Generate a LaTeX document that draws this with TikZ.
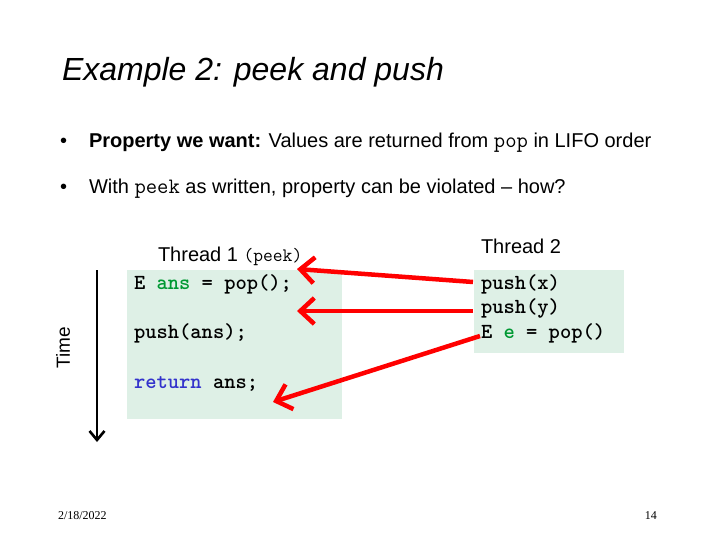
\documentclass[tikz,border=0pt]{standalone}
\usepackage{fontspec}
\setmainfont{Liberation Sans}
\newfontfamily\footfont{Liberation Serif}
\usetikzlibrary{arrows.meta}
\definecolor{boxfill}{RGB}{222,240,230}
\definecolor{kwgreen}{RGB}{0,153,51}
\definecolor{kwblue}{RGB}{51,51,204}
\tikzset{
  txt/.style={anchor=base west, inner sep=0pt, outer sep=0pt},
  code/.style={txt, font=\ttfamily\bfseries\fontsize{21.5}{21.5}\selectfont},
  codebox/.style={fill=boxfill, draw=none},
  redarrow/.style={draw=red, line width=4.5pt, -{Straight Barb[length=14pt,width=26pt,line width=4.5pt]}},
  timearrow/.style={draw=black, line width=2.6pt, -{Straight Barb[length=9pt,width=15pt,line width=2.6pt]}},
}
\newcommand{\mc}[1]{{\ttfamily\fontsize{22}{22}\selectfont #1}}
\begin{document}
\begin{tikzpicture}[x=1pt,y=-1pt]
\useasboundingbox[fill=white] (0,0) rectangle (720,540);
% title
\node[txt, font=\itshape\fontsize{32}{32}\selectfont] (title) at (62,81) {Example 2: peek and push};
% bullets
\node[txt, font=\fontsize{20}{20}\selectfont] (b1) at (60,148) {\textbullet};
\node[txt, font=\fontsize{20}{20}\selectfont] (l1) at (89,148) {\textbf{Property we want:} Values are returned from \mc{pop} in LIFO order};
\node[txt, font=\fontsize{20}{20}\selectfont] (b2) at (60,194) {\textbullet};
\node[txt, font=\fontsize{20}{20}\selectfont] (l2) at (89,194) {With \mc{peek} as written, property can be violated -- how?};
% boxes
\path[codebox] (127,270) rectangle (342,419);
\path[codebox] (474,270) rectangle (624,353);
\node[txt, font=\fontsize{20}{20}\selectfont] (th1) at (158,261) {Thread 1 {\ttfamily\fontsize{19}{19}\selectfont(peek)}};
\node[txt, font=\fontsize{20}{20}\selectfont] (th2) at (481,254) {Thread 2};
% thread 1 code
\node[code] (c1) at (134,289) {E \textcolor{kwgreen}{ans} = pop();};
\node[code] (c2) at (134,338) {push(ans);};
\node[code] (c3) at (134,388) {\textcolor{kwblue}{return} ans;};
% thread 2 code
\node[code] (d1) at (481,289) {push(x)};
\node[code] (d2) at (481,313) {push(y)};
\node[code] (d3) at (481,338) {E \textcolor{kwgreen}{e} = pop()};
% time
\coordinate (t0) at (97,270);
\coordinate (t1) at (97,442);
\draw[timearrow] (t0) -- (t1);
\node[rotate=90, font=\fontsize{19}{19}\selectfont, inner sep=0pt] (time) at (63,348) {Time};
% red arrows
\coordinate (a1s) at (473,282);
\coordinate (a1e) at (297,269);
\coordinate (a2s) at (473,311);
\coordinate (a2e) at (297,311);
\coordinate (a3s) at (480,336);
\coordinate (a3e) at (273,402);
\draw[redarrow] (a1s) -- (a1e);
\draw[redarrow] (a2s) -- (a2e);
\draw[redarrow] (a3s) -- (a3e);
% footer
\node[txt, font=\footfont\fontsize{12}{12}\selectfont] (date) at (58,519) {2/18/2022};
\node[anchor=base east, inner sep=0pt, font=\footfont\fontsize{12}{12}\selectfont] (page) at (657,519) {14};
\end{tikzpicture}
\end{document}
